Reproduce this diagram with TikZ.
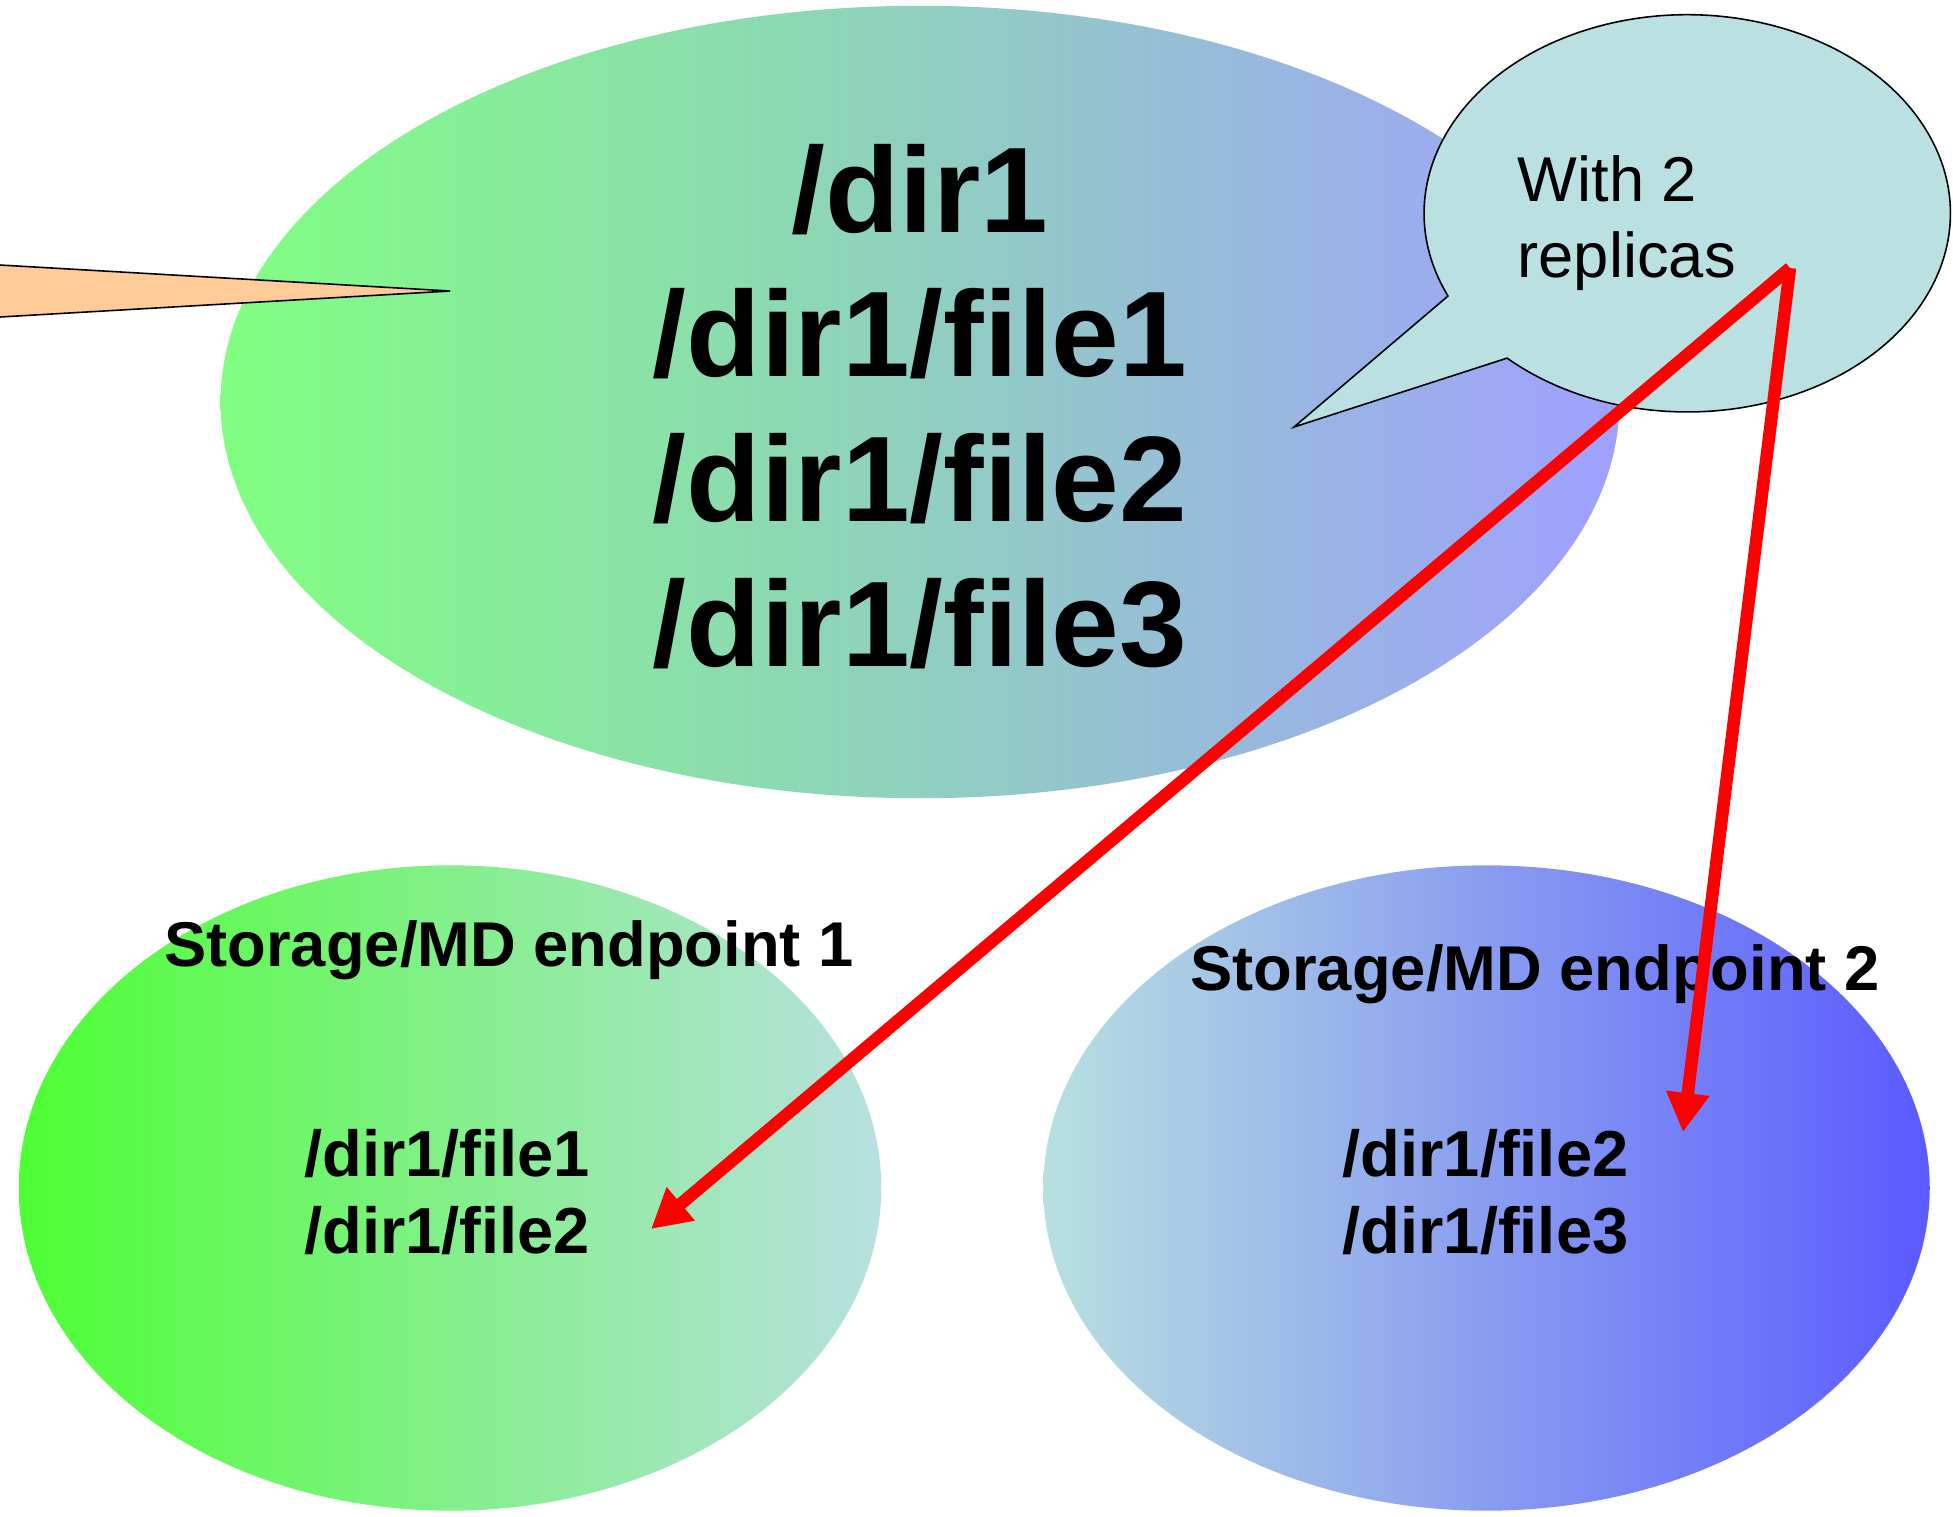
\documentclass[tikz,border=0pt]{standalone}
\usepackage{fontspec}
\setmainfont{Liberation Sans}
\usetikzlibrary{shapes.geometric, arrows.meta}

\definecolor{topL}{RGB}{128,255,128}
\definecolor{topR}{RGB}{160,160,255}
\definecolor{epL}{RGB}{77,255,51}
\definecolor{paleCyan}{RGB}{184,224,224}
\definecolor{epR}{RGB}{90,90,255}
\definecolor{wedgeFill}{RGB}{255,204,153}
\definecolor{calloutFill}{RGB}{186,224,226}

\begin{document}
\begin{tikzpicture}[x=0.01cm, y=-0.01cm,
  blob/.style={ellipse, inner sep=0pt, draw=none},
  bigtxt/.style={font=\fontsize{34.6}{41}\selectfont\bfseries, anchor=base, inner sep=0pt},
  headtxt/.style={font=\fontsize{18}{22}\selectfont\bfseries, anchor=base, inner sep=0pt},
  filetxt/.style={font=\fontsize{18.5}{22}\selectfont\bfseries, anchor=base, inner sep=0pt},
  calltxt/.style={font=\fontsize{18}{22}\selectfont, anchor=base west, inner sep=0pt},
  outlined/.style={draw=black, line width=0.45pt},
  redarrow/.style={draw=red, line width=1.25mm, -{Triangle[length=3.9mm, width=4.1mm]}},
]
\clip (0,0) rectangle (1953,1517);

% big top ellipse
\node[blob, minimum width=13.98cm, minimum height=7.92cm, left color=topL, right color=topR] (top) at (920,402) {};

% orange wedge from the left
\draw[outlined, fill=wedgeFill] (-40,262.7) -- (450,291) -- (-40,319.3) -- cycle;

% callout
\draw[outlined, fill=calloutFill] (1448,296) arc[start angle=204.6, end angle=-133.2, x radius=2.63cm, y radius=1.985cm] -- (1294,427) -- cycle;

% bottom ellipses
\node[blob, minimum width=8.62cm, minimum height=6.45cm, left color=epL, right color=paleCyan] (ep1) at (450,1188) {};
\node[blob, minimum width=8.86cm, minimum height=6.45cm, left color=paleCyan, right color=epR] (ep2) at (1486.5,1188) {};

% texts
\node[bigtxt] (t1) at (920,232.5) {/dir1};
\node[bigtxt] (t2) at (920,376.5) {/dir1/file1};
\node[bigtxt] (t3) at (920,521.5) {/dir1/file2};
\node[bigtxt] (t4) at (920,666) {/dir1/file3};

\node[calltxt] (c1) at (1517,201) {With 2};
\node[calltxt] (c2) at (1517,277) {replicas};

\node[headtxt] (h1) at (509,966) {Storage/MD endpoint 1};
\node[headtxt] (h2) at (1535,990) {Storage/MD endpoint 2};

\node[filetxt] (f11) at (447,1176) {/dir1/file1};
\node[filetxt] (f12) at (447,1253) {/dir1/file2};
\node[filetxt] (f21) at (1485.5,1176) {/dir1/file2};
\node[filetxt] (f22) at (1485.5,1253) {/dir1/file3};

% red arrows
\coordinate (apex) at (1790,268);
\coordinate (tip1) at (651,1229);
\coordinate (tip2) at (1683,1132);
\draw[redarrow] (apex) -- (tip1);
\draw[redarrow] (apex) -- (tip2);
\end{tikzpicture}
\end{document}
